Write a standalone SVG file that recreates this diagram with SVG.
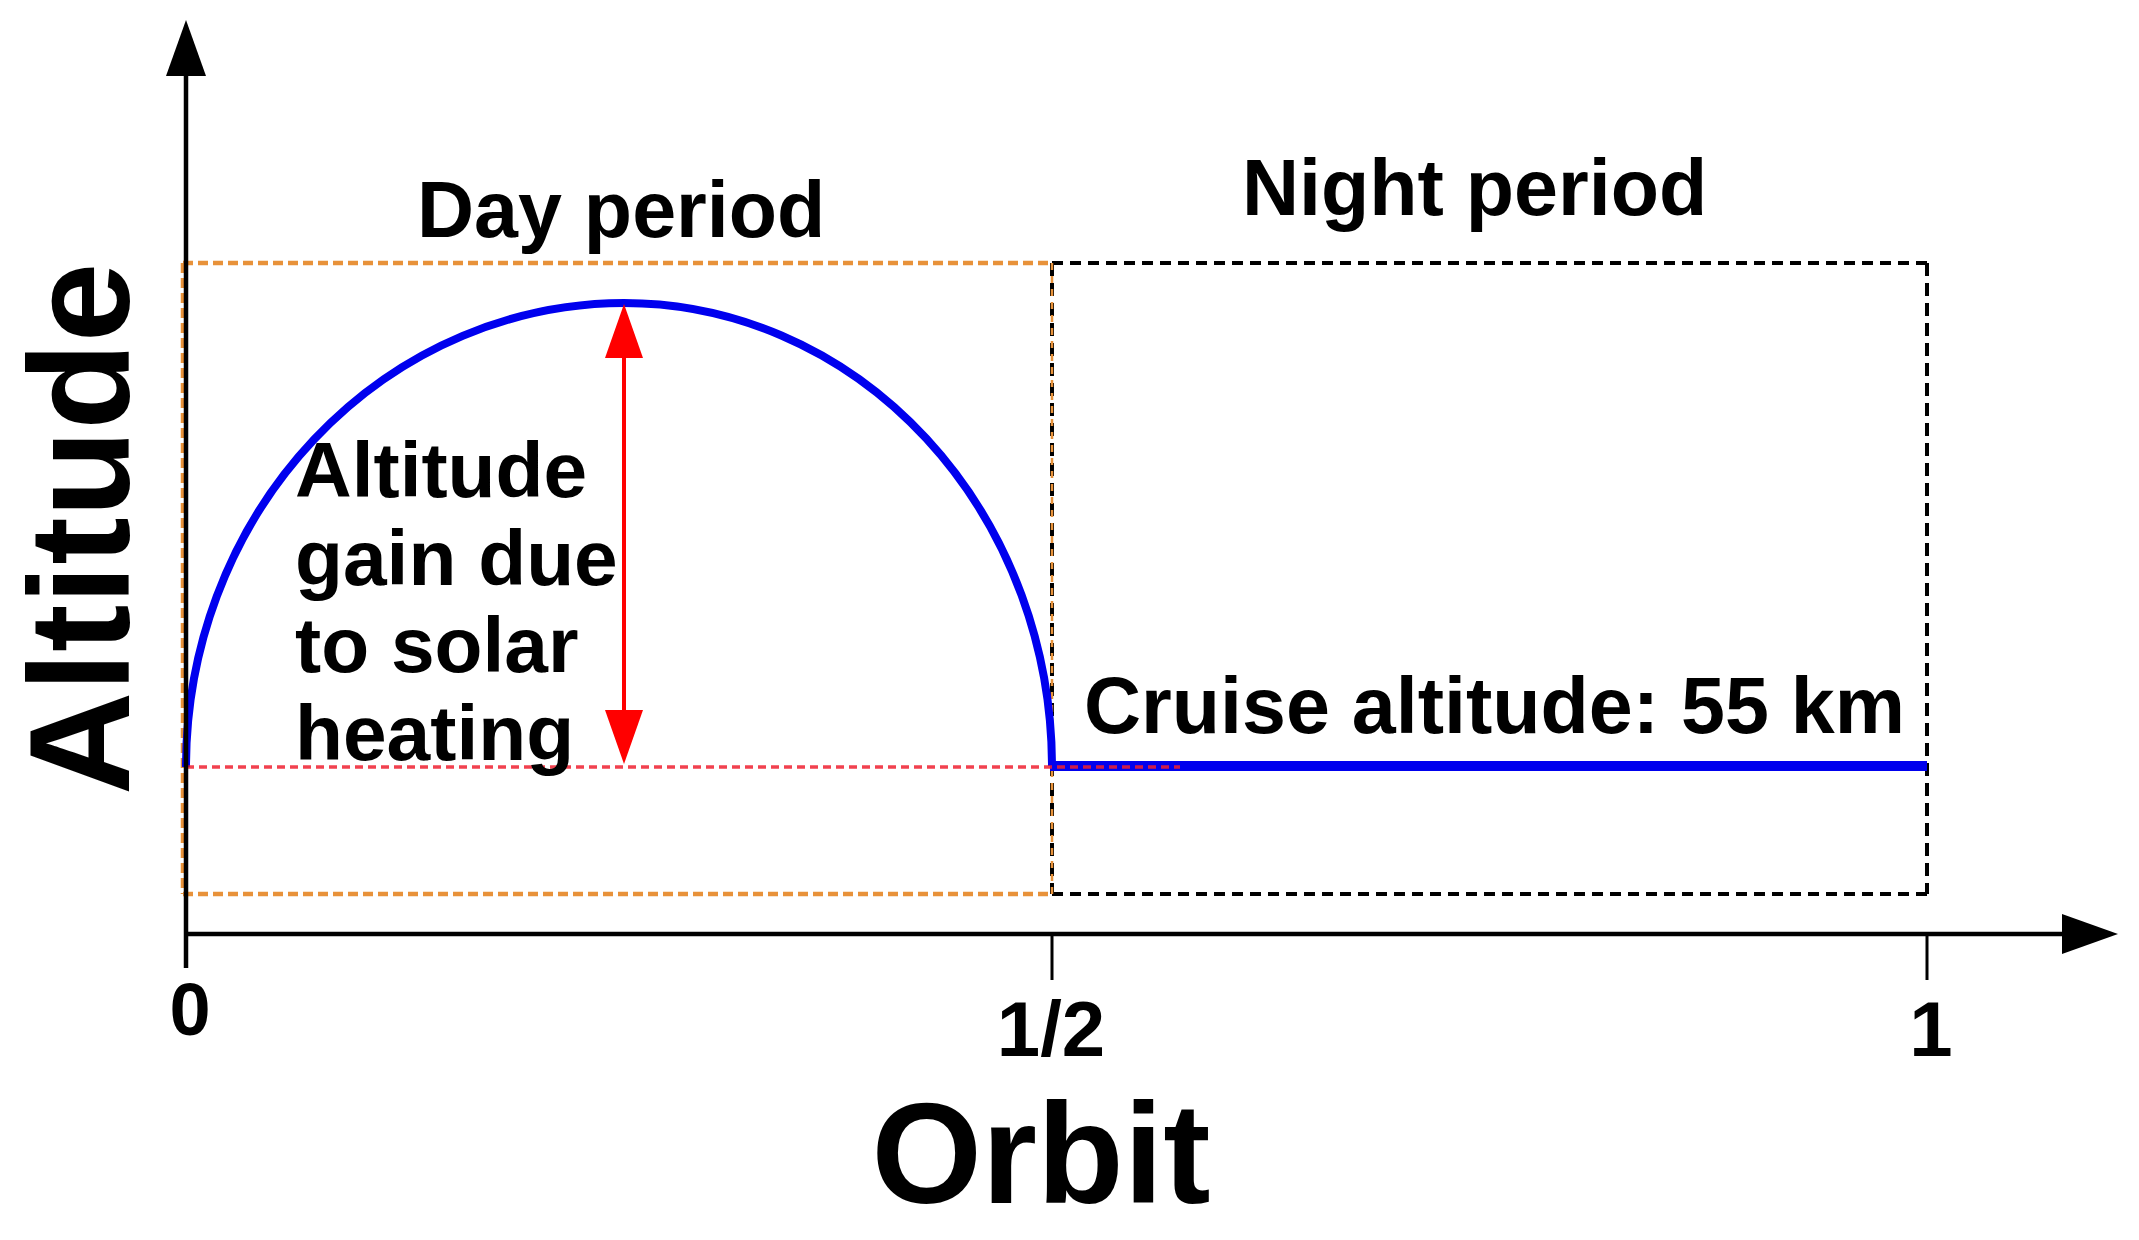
<svg xmlns="http://www.w3.org/2000/svg" width="2139" height="1240" viewBox="0 0 2139 1240">
  <style>
    text { font-family: "Liberation Sans", Arial, sans-serif; font-weight: bold; fill: #000; }
    .axis { stroke: #000; stroke-width: 4.5; fill: none; }
    .tick { stroke: #000; stroke-width: 3; fill: none; }
    .orange { stroke: #E8923A; stroke-width: 4.5; stroke-dasharray: 10 5; fill: none; }
    .black { stroke: #000; stroke-width: 4; stroke-dasharray: 11 7; fill: none; }
    .blue { stroke: #0000EE; fill: none; }
    .reddash { stroke: #EE2030; stroke-width: 3.5; stroke-dasharray: 8 5; fill: none; }
  </style>
  <defs>
    <marker id="axisHead" markerUnits="userSpaceOnUse" markerWidth="56" markerHeight="40" viewBox="0 0 56 40" refX="0" refY="20" orient="auto">
      <path d="M0,0 L56,20 L0,40 Z" fill="#000"/>
    </marker>
    <marker id="redHead" markerUnits="userSpaceOnUse" markerWidth="54" markerHeight="38" viewBox="0 0 54 38" refX="0" refY="19" orient="auto-start-reverse">
      <path d="M0,0 L54,19 L0,38 Z" fill="#FF0000"/>
    </marker>
  </defs>
  <rect x="0" y="0" width="2139" height="1240" fill="#fff"/>

  <g id="day-box">
    <path class="orange" d="M183,263 H1052"/>
    <path class="orange" d="M183,894 H1052"/>
    <path class="orange" d="M183,263 V894"/>
  </g>
  <g id="night-box">
    <path class="black" d="M1052,263 H1927"/>
    <path class="black" d="M1052,894 H1927"/>
    <path class="black" d="M1927,263 V894" style="stroke-dasharray: 13 7"/>
    <path class="black" d="M1052,263 V894" style="stroke-dasharray: 13 7"/>
    <path class="orange" d="M1052,263 V894" style="stroke-width:2.5; stroke-dasharray: 7 6"/>
  </g>

  <g id="altitude-curve">
    <path class="blue" stroke-width="8" d="M186,767 A439,464 0 0 1 624,303 A428,464 0 0 1 1052,766"/>
    <path class="blue" stroke-width="10" d="M1050,766 H1927"/>
  </g>

  <g id="cruise-reference">
    <path class="reddash" d="M186,767 H1180" opacity="0.85"/>
  </g>

  <g id="axes">
    <path class="axis" d="M186,968 V76" marker-end="url(#axisHead)"/>
    <path class="axis" d="M186,934 H2062" marker-end="url(#axisHead)"/>
    <path class="tick" d="M1052,934 V980"/>
    <path class="tick" d="M1927,934 V980"/>
  </g>

  <g id="connectors">
    <path d="M624,358 V710" stroke="#FF0000" stroke-width="4" fill="none" marker-start="url(#redHead)" marker-end="url(#redHead)"/>
  </g>

  <g id="labels">
    <text x="417" y="237" font-size="79">Day period</text>
    <text x="1242" y="215" font-size="79">Night period</text>
    <g id="gain-label" font-size="78.5">
      <text x="295" y="497">Altitude</text>
      <text x="295" y="585">gain due</text>
      <text x="295" y="672">to solar</text>
      <text x="295" y="760">heating</text>
    </g>
    <text x="1084" y="733" font-size="79">Cruise altitude: 55 km</text>
    <text x="190" y="1035" font-size="74" text-anchor="middle">0</text>
    <text x="1051" y="1056" font-size="78" text-anchor="middle">1/2</text>
    <text x="1931" y="1056" font-size="78" text-anchor="middle">1</text>
    <text x="1041" y="1203" font-size="142" text-anchor="middle">Orbit</text>
    <text transform="translate(129,795) rotate(-90)" x="0" y="0" font-size="143">Altitude</text>
  </g>
</svg>
